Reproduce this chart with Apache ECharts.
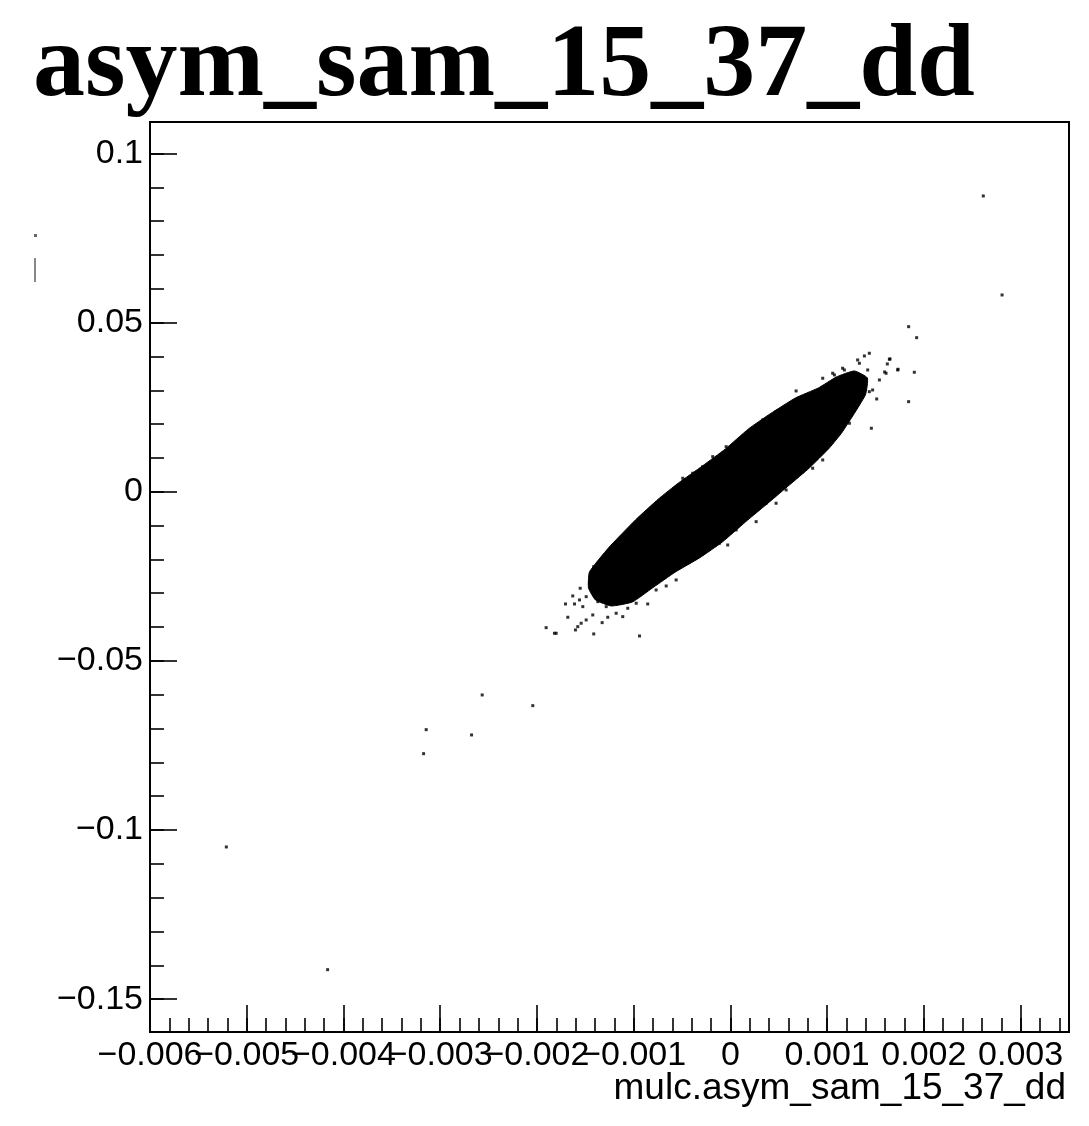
<!DOCTYPE html>
<html>
<head>
<meta charset="utf-8">
<script src="https://cdn.jsdelivr.net/npm/echarts@6/dist/echarts.min.js"></script>
<style>
html,body{margin:0;padding:0;background:#fff;}
#chart{width:1089px;height:1126px;}
</style>
</head>
<body>
<div id="chart"></div>
<script>
// ---- data ----
const titleText = "asym_sam_15_37_dd";
const xAxisTitle = "mulc.asym_sam_15_37_dd";

const xRange = [-0.006, 0.0035];
const yRange = [-0.1597, 0.1093];

const xMajorTicks = [-0.006, -0.005, -0.004, -0.003, -0.002, -0.001, 0, 0.001, 0.002, 0.003];
const xLabelsEven = [-0.006, -0.004, -0.002, 0, 0.002];
const xLabelsOdd = [-0.005, -0.003, -0.001, 0.001, 0.003];
const yMajorTicks = [-0.15, -0.1, -0.05, 0, 0.05, 0.1];

// outline of the dense (solid black) core of the scatter
const coreOutline = [
  [-0.001457, -0.02371], [-0.001261, -0.01661], [-0.000982, -0.00834], [-0.000744, -0.00213],
  [-0.000537, 0.00260], [-0.000289, 0.00763], [-0.000052, 0.01265], [0.000186, 0.01856],
  [0.000393, 0.02270], [0.000672, 0.02773], [0.000909, 0.03068], [0.001095, 0.03393],
  [0.001281, 0.03571], [0.001416, 0.03364], [0.001395, 0.02861],
  [0.001157, 0.01768], [0.001023, 0.01295], [0.000816, 0.00704], [0.000610, 0.00201],
  [0.000403, -0.00302], [0.000155, -0.00893], [-0.000083, -0.01484], [-0.000320, -0.01957],
  [-0.000568, -0.02371], [-0.000806, -0.02844], [-0.001013, -0.03258], [-0.001230, -0.03376],
  [-0.001395, -0.03198], [-0.001467, -0.02844]
];

// scattered points around the edge of the core
const fringePoints = [
  [-0.001905, -0.04017], [-0.001819, -0.04183], [-0.001801, -0.04183], [-0.001413, -0.04203],
  [-0.000940, -0.04263], [-0.001602, -0.04085], [-0.001578, -0.03988], [-0.001543, -0.03887],
  [-0.001491, -0.03790], [-0.001326, -0.03869], [-0.001681, -0.03710], [-0.001705, -0.03317],
  [-0.001630, -0.03080], [-0.001553, -0.02853], [-0.001413, -0.02214], [-0.001612, -0.03317],
  [-0.001526, -0.03396], [-0.001423, -0.03642], [-0.001268, -0.03710], [-0.001181, -0.03592],
  [-0.001113, -0.03692], [-0.001061, -0.03444], [-0.000974, -0.03296], [-0.000855, -0.03317],
  [-0.000768, -0.02903], [-0.000664, -0.02785], [-0.000561, -0.02607],
  [-0.001457, -0.02705], [-0.001491, -0.03101], [-0.001371, -0.03249], [-0.001284, -0.03396],
  [-0.001181, -0.03296], [-0.001560, -0.03198],
  [-0.001147, -0.01522], [-0.001044, -0.01327], [-0.000974, -0.01179], [-0.000889, -0.00884],
  [-0.000803, -0.00736], [-0.000716, -0.00390], [-0.000596, -0.00044], [-0.000493, 0.00399],
  [-0.000390, 0.00547], [-0.000286, 0.00742], [-0.000183, 0.01038], [-0.000044, 0.01333],
  [0.000093, 0.01531], [0.000230, 0.01827], [0.000334, 0.02122], [0.000472, 0.02368],
  [0.000679, 0.02980], [0.000747, 0.02516], [0.000886, 0.02912], [0.000954, 0.03355],
  [0.001075, 0.03453], [0.001178, 0.03600], [0.001315, 0.03896], [0.001385, 0.04014],
  [0.001436, 0.04094], [0.001643, 0.03917], [0.001729, 0.03600], [0.001609, 0.03503],
  [0.001470, 0.03009], [0.001540, 0.03305], [0.001512, 0.02743], [0.001457, 0.01877],
  [0.001622, 0.03778], [0.001594, 0.03541], [0.001650, 0.03926], [0.001733, 0.03621],
  [0.001057, 0.03503], [0.001160, 0.03651], [0.001247, 0.03453], [0.001333, 0.03798],
  [0.001419, 0.03600], [0.001367, 0.03255], [0.001436, 0.02959], [0.001281, 0.02811],
  [0.001196, 0.02516], [0.001109, 0.02122], [0.001023, 0.01827], [0.001247, 0.02270],
  [0.001230, 0.02025], [0.001126, 0.01729], [0.000954, 0.00940], [0.000850, 0.00695],
  [0.000747, 0.00594], [0.000644, 0.00349], [0.000576, 0.00053], [0.000472, -0.00340],
  [0.000369, -0.00340], [0.000266, -0.00884], [0.000162, -0.00783], [0.000059, -0.01129],
  [-0.000028, -0.01573], [-0.000114, -0.01522], [-0.000217, -0.01670], [-0.000320, -0.01720],
  [-0.000458, -0.02114], [-0.000561, -0.02214]
];

// isolated outliers
const outlierPoints = [
  [0.002614, 0.08744], [0.002808, 0.05817], [0.001842, 0.04880], [0.001925, 0.04555],
  [0.001901, 0.03532], [0.001842, 0.02663],
  [-0.002566, -0.06007], [-0.002043, -0.06323], [-0.003145, -0.07032], [-0.002676, -0.07189],
  [-0.003172, -0.07742], [-0.005211, -0.10500], [-0.004164, -0.14127]
];

// ---- helpers ----
function range(a, b, step) {
  const out = [];
  const n = Math.round((b - a) / step);
  for (let i = 0; i <= n; i++) out.push(+(a + i * step).toFixed(6));
  return out;
}
const xMinorTicks = range(-0.006, 0.0034, 0.0002);
const yMinorTicks = range(-0.15, 0.10, 0.01);

function fmt(v) {
  if (Math.abs(v) < 1e-12) return '0';
  const s = String(parseFloat(Math.abs(v).toFixed(4)));
  return (v < 0 ? '\u2212' : '') + s;
}

const FONT = "'Liberation Sans', Arial, Helvetica, sans-serif";
const chart = echarts.init(document.getElementById('chart'), null, {renderer: 'canvas'});

const tickStyle = {color: '#000', width: 1.6};
const labelStyle = {show: true, formatter: fmt, color: '#000', fontSize: 34, fontFamily: FONT, margin: 7, hideOverlap: false, showMinLabel: true, showMaxLabel: true};

chart.setOption({
  animation: false,
  backgroundColor: '#fff',
  grid: {
    left: 150, right: 20, top: 122, bottom: 94,
    show: true, borderColor: '#000', borderWidth: 2, backgroundColor: 'transparent'
  },
  xAxis: [
    {
      type: 'value', min: xRange[0], max: xRange[1], position: 'bottom', splitLine: {show: false},
      axisLine: {show: true, onZero: false, lineStyle: {color: '#000', width: 2}},
      axisTick: {show: true, inside: true, length: 27, customValues: xMajorTicks, lineStyle: tickStyle},
      axisLabel: Object.assign({}, labelStyle, {customValues: xLabelsEven})
    },
    {
      type: 'value', min: xRange[0], max: xRange[1], position: 'bottom', splitLine: {show: false},
      axisLine: {show: false, onZero: false},
      axisTick: {show: true, inside: true, length: 14, customValues: xMinorTicks, lineStyle: tickStyle},
      axisLabel: Object.assign({}, labelStyle, {customValues: xLabelsOdd})
    }
  ],
  yAxis: [
    {
      type: 'value', min: yRange[0], max: yRange[1], position: 'left', splitLine: {show: false},
      axisLine: {show: true, onZero: false, lineStyle: {color: '#000', width: 2}},
      axisTick: {show: true, inside: true, length: 27, customValues: yMajorTicks, lineStyle: tickStyle},
      axisLabel: Object.assign({}, labelStyle, {customValues: yMajorTicks})
    },
    {
      type: 'value', min: yRange[0], max: yRange[1], position: 'left', splitLine: {show: false},
      axisLine: {show: false, onZero: false},
      axisTick: {show: true, inside: true, length: 14, customValues: yMinorTicks, lineStyle: tickStyle},
      axisLabel: {show: false}
    }
  ],
  series: [
    {
      type: 'custom',
      xAxisIndex: 0, yAxisIndex: 0,
      data: coreOutline,
      encode: {x: 0, y: 1},
      renderItem: function (params, api) {
        if (params.dataIndex !== 0) return null;
        const pts = coreOutline.map(p => api.coord(p));
        return {
          type: 'polygon',
          shape: {points: pts, smooth: 0.15},
          style: {fill: '#000', stroke: '#000', lineWidth: 1}
        };
      },
      silent: true
    },
    {
      type: 'scatter',
      xAxisIndex: 0, yAxisIndex: 0,
      data: fringePoints,
      symbol: 'rect', symbolSize: 3,
      itemStyle: {color: '#000'},
      silent: true
    },
    {
      type: 'scatter',
      xAxisIndex: 0, yAxisIndex: 0,
      data: outlierPoints,
      symbol: 'rect', symbolSize: 3,
      itemStyle: {color: '#000'},
      silent: true
    }
  ],
  graphic: [
    {
      type: 'text', left: 33, top: 16,
      style: {text: titleText, font: "bold 104px 'Liberation Serif', 'Times New Roman', serif", fill: '#000'}
    },
    {
      type: 'text', right: 23, top: 1070,
      style: {text: xAxisTitle, font: "37px 'Liberation Sans', Arial, sans-serif", fill: '#000'}
    },
    {type: 'rect', shape: {x: 34, y: 234, width: 3, height: 3}, style: {fill: '#666'}},
    {type: 'rect', shape: {x: 34, y: 258, width: 2, height: 24}, style: {fill: '#888'}}
  ]
});
</script>
</body>
</html>
